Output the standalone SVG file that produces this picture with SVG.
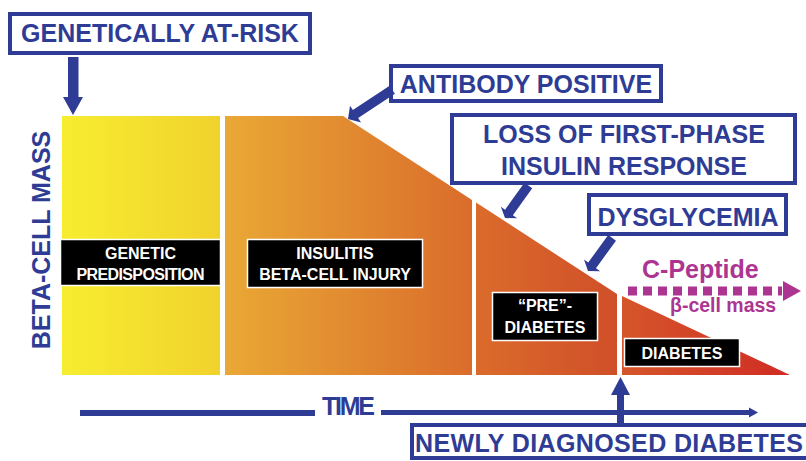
<svg xmlns="http://www.w3.org/2000/svg" width="806" height="461" viewBox="0 0 806 461">
<defs>
<linearGradient id="g" gradientUnits="userSpaceOnUse" x1="62" y1="0" x2="790" y2="0">
<stop offset="0" stop-color="#f7ed30"/>
<stop offset="0.2157" stop-color="#f1d22d"/>
<stop offset="0.224" stop-color="#e9a835"/>
<stop offset="0.563" stop-color="#da6c2b"/>
<stop offset="0.569" stop-color="#db6b2c"/>
<stop offset="0.762" stop-color="#d04f28"/>
<stop offset="0.768" stop-color="#d5562a"/>
<stop offset="1" stop-color="#d02c24"/>
</linearGradient>
<path id="arr" d="M0,0 L-17,-10 L-17,-4.8 L-100,-4.8 L-100,4.8 L-17,4.8 L-17,10 Z"/>
</defs>
<style>
.cb{fill:#fff;stroke:#2e3c95;stroke-width:4}
.ct{font-family:"Liberation Sans",Arial,sans-serif;font-weight:bold;font-size:25px;fill:#2e3c95}
.lb{fill:#000;stroke:#fff;stroke-width:1.5}
.lt{font-family:"Liberation Sans",Arial,sans-serif;font-weight:bold;font-size:16px;fill:#fff;text-anchor:middle}
.ar{fill:#2e3c95}
.mg{fill:#ad3592;font-family:"Liberation Sans",Arial,sans-serif;font-weight:bold}
</style>
<rect width="806" height="461" fill="#fff"/>

<g id="seg-genetic">
<rect x="62" y="116" width="158" height="259" fill="url(#g)"/>
<rect class="lb" x="60.5" y="239.5" width="160" height="46"/>
<text class="lt" x="140.5" y="258.5">GENETIC</text>
<text class="lt" x="140.5" y="279.5" textLength="128">PREDISPOSITION</text>
</g>
<g id="seg-insulitis">
<polygon points="225,116 343,116 472,200 472,375 225,375" fill="url(#g)"/>
<rect class="lb" x="247.5" y="239.5" width="175" height="48"/>
<text class="lt" x="335" y="258.5">INSULITIS</text>
<text class="lt" x="335" y="279.5">BETA-CELL INJURY</text>
</g>
<g id="seg-prediabetes">
<polygon points="476,202.5 617,294 617,375 476,375" fill="url(#g)"/>
<rect class="lb" x="492.5" y="292.5" width="105" height="48"/>
<text class="lt" x="545" y="311" font-size="16.5">“PRE”-</text>
<text class="lt" x="545" y="333" font-size="16.5">DIABETES</text>
</g>
<g id="seg-diabetes">
<polygon points="622,296 790,375 622,375" fill="url(#g)"/>
<rect class="lb" x="624.5" y="338.5" width="115" height="28"/>
<text class="lt" x="682" y="359" font-size="16.5">DIABETES</text>
</g>

<g id="axis-y">
<text class="ct" font-size="22.5" text-anchor="middle" transform="translate(50,240) rotate(-90)">BETA-CELL MASS</text>
</g>
<g id="axis-time">
<rect class="ar" x="80" y="410" width="235" height="6"/>
<rect class="ar" x="381" y="410" width="371" height="5"/>
<polygon class="ar" points="758,412.5 749,407.5 749,417.5"/>
<text class="ct" font-size="21" x="322" y="415" textLength="53">TIME</text>
</g>

<g id="callout-genetically">
<rect class="cb" x="10" y="14" width="300" height="39"/>
<text class="ct" x="160" y="42" text-anchor="middle">GENETICALLY AT-RISK</text>
</g>
<g id="callout-antibody">
<rect class="cb" x="391" y="66" width="270" height="35"/>
<text class="ct" x="526" y="93" text-anchor="middle">ANTIBODY POSITIVE</text>
</g>
<g id="callout-loss">
<rect class="cb" x="452" y="115" width="343" height="68"/>
<text class="ct" x="624" y="143" text-anchor="middle" font-size="25.5">LOSS OF FIRST-PHASE</text>
<text class="ct" x="624" y="175" text-anchor="middle" font-size="25.5">INSULIN RESPONSE</text>
</g>
<g id="callout-dysglycemia">
<rect class="cb" x="589" y="195" width="197" height="39"/>
<text class="ct" x="688" y="226" text-anchor="middle">DYSGLYCEMIA</text>
</g>
<g id="callout-newly">
<rect class="cb" x="412" y="425" width="400" height="33"/>
<text class="ct" x="415" y="452" textLength="388">NEWLY DIAGNOSED DIABETES</text>
</g>

<g id="cpeptide">
<text class="mg" x="642" y="278" font-size="25">C-Peptide</text>
<line x1="628" y1="291" x2="782" y2="291" stroke="#ad3592" stroke-width="9" stroke-dasharray="9 6"/>
<polygon points="801,291 783,281 783,301" fill="#ad3592"/>
<text class="mg" x="670" y="312" font-size="19.5">β-cell mass</text>
</g>

<g id="connectors">
<polygon class="ar" points="73,115 63,97 68,97 68,57 78.5,57 78.5,97 83,97"/>
<use href="#arr" class="ar" transform="translate(348,119) rotate(146.6) scale(0.53,1)"/>
<use href="#arr" class="ar" transform="translate(505,218) rotate(125.7) scale(0.4,1)"/>
<use href="#arr" class="ar" transform="translate(588,271) rotate(126) scale(0.41,1)"/>
<polygon class="ar" points="620.5,377 611,395 617,395 617,423 624,423 624,395 630,395"/>
</g>
</svg>
